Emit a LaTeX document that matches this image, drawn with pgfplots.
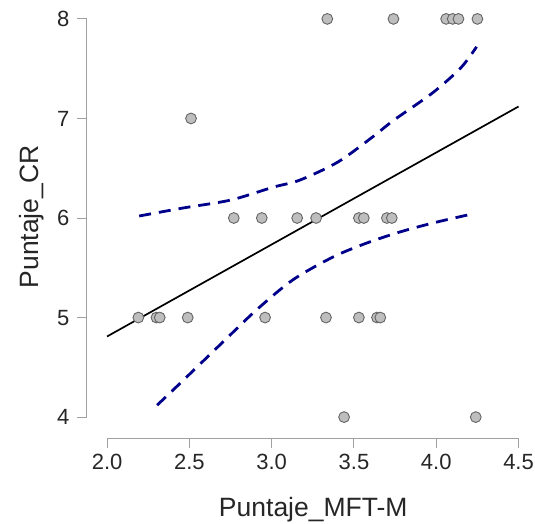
\documentclass[border=0pt]{standalone}
\usepackage{pgfplots}
\pgfplotsset{compat=1.18}
\usepackage{fontspec}
\setmainfont{Liberation Sans}
\definecolor{ptfill}{RGB}{190,190,190}
\definecolor{ptdraw}{RGB}{100,100,100}
\definecolor{cinavy}{RGB}{0,0,139}
\definecolor{axgray}{RGB}{160,160,160}

\begin{document}
\begin{tikzpicture}
\begin{axis}[
  scale only axis,
  width=448pt, height=438pt,
  xmin=1.878, xmax=4.60, ymin=3.79, ymax=8.19,
  clip=false,
  axis line style={draw=none},
  xtick={2.0,2.5,3.0,3.5,4.0,4.5},
  ytick={4,5,6,7,8},
  xticklabels={2.0,2.5,3.0,3.5,4.0,4.5},
  xtick pos=bottom, ytick pos=left,
  tick align=outside,
  major tick length=10pt,
  tick style={axgray, line width=1pt},
  /pgf/number format/assume math mode=true,
  tick label style={font=\fontsize{22}{26}\selectfont, text=black!85},
  xticklabel style={yshift=-3pt},
  yticklabel style={xshift=-4pt},
  label style={font=\fontsize{26.5}{30}\selectfont, text=black!85},
  xlabel={Puntaje\_MFT-M},
  ylabel={Puntaje\_CR},
  xlabel style={at={(axis description cs:0.505,-0.180)}, anchor=base},
  ylabel style={at={(axis description cs:-0.124,0.505)}, anchor=center},
]
% axis lines spanning the tick range only
\draw[axgray, line width=1pt] (axis cs:2.0,3.79) -- (axis cs:4.5,3.79);
\draw[axgray, line width=1pt] (axis cs:1.878,4) -- (axis cs:1.878,8);

% observations
\addplot[only marks, mark=*, mark size=5.4pt,
  mark options={fill=ptfill, draw=ptdraw, line width=0.9pt}] coordinates {
  (3.338,8) (3.74,8) (4.06,8) (4.10,8) (4.135,8) (4.25,8)
  (2.51,7)
  (2.77,6) (2.94,6) (3.155,6) (3.27,6) (3.53,6) (3.56,6) (3.70,6) (3.73,6)
  (2.19,5) (2.30,5) (2.32,5) (2.49,5) (2.96,5) (3.33,5) (3.53,5) (3.64,5) (3.66,5)
  (3.44,4) (4.24,4)
};

% confidence band
\addplot[cinavy, line width=2.8pt, dash pattern=on 12pt off 8pt, smooth] coordinates {
  (2.195,6.02) (2.46,6.10) (2.75,6.18) (3.01,6.31) (3.17,6.38)
  (3.40,6.56) (3.61,6.81) (3.74,6.98) (3.98,7.26) (4.15,7.51) (4.245,7.72)
};
\addplot[cinavy, line width=2.8pt, dash pattern=on 12pt off 8pt, smooth] coordinates {
  (2.304,4.12) (2.444,4.34) (2.72,4.78) (2.91,5.08) (3.13,5.38)
  (3.375,5.61) (3.58,5.75) (3.78,5.86) (3.98,5.95) (4.19,6.03)
};

% regression line
\addplot[black, line width=1.7pt] coordinates {(2.0,4.81) (4.5,7.12)};
\end{axis}
\pgfresetboundingbox
\path (-87pt,-85pt) rectangle (448pt,438pt);
\end{tikzpicture}
\end{document}
